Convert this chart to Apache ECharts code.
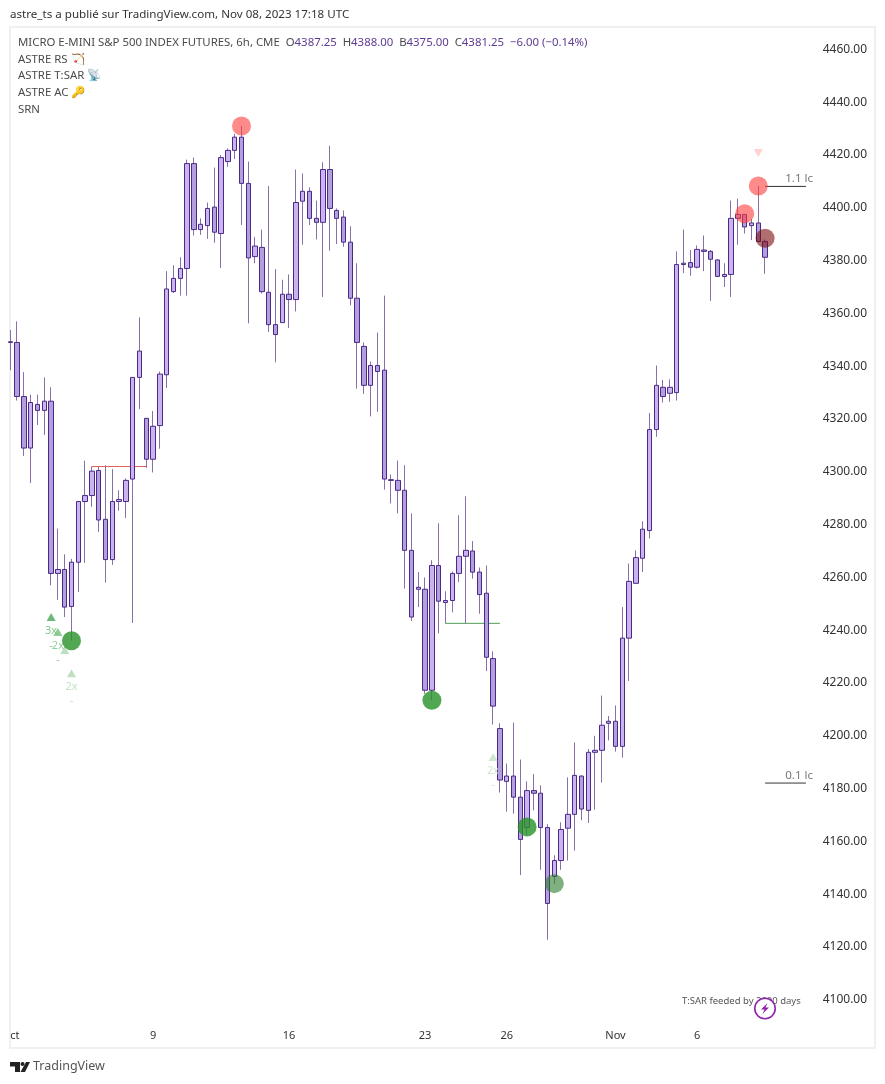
<!DOCTYPE html>
<html><head><meta charset="utf-8">
<style>html,body{margin:0;padding:0;background:#fff}#c{width:885px;height:1084px}</style>
<script src="https://cdn.jsdelivr.net/npm/echarts@6/dist/echarts.min.js"></script>
</head><body><div id="c"></div>
<script>
const opens = [4349.25,4349,4328.5,4309,4325.5,4323.25,4326.75,4261.5,4263,4249,4265.75,4288.75,4291,4300.5,4282,4266.75,4288.75,4288.75,4297.25,4335.75,
4320.25,4304.75,4317.5,4336.75,4368.25,4373.25,4377,4416.75,4391.75,4393.25,4400.25,4390.25,4417.5,4421.75,4426.75,4409.25,4381.5,4385,4368,4355.75,
4356.5,4367.25,4365.25,4402.5,4406.25,4396,4394.5,4414.5,4399,4396.5,4387,4365.75,4347.5,4332.75,4340.25,4338.5,4297,4296.75,4293,4270.25,
4255.5,4255.5,4217.25,4264.5,4250.5,4251.25,4261.5,4268,4270,4262,4254,4229.25,4202.75,4182.75,4184.75,4176.75,4165.25,4179.25,4178.25,4165.25,
4146.75,4152.75,4165,4170.25,4184.75,4171.75,4193.75,4194.5,4204.75,4205.5,4196,4237,4257.75,4267.25,4277.75,4316,4332,4329.75,4330,4378.5,
4379.25,4377.5,4384,4383.5,4380.25,4374,4374.75,4396,4397.5,4393.25,4394.25,4387.25];
const closes = [4349,4328.5,4309,4326.25,4323.25,4326.75,4261.5,4263,4248.75,4265.75,4288.75,4291,4300.25,4281.75,4266.75,4288.75,4289.5,4296.75,4335.75,4345.75,
4304.75,4317.25,4337,4369.25,4373.25,4377,4416.75,4391.75,4393.75,4399.75,4390.75,4419,4421.75,4426.75,4409.25,4381,4385.5,4368.25,4355.75,4352,
4367.25,4365.25,4402,4406.25,4396,4394.5,4414.5,4399.75,4396,4387,4365.75,4349,4332.75,4340.25,4338,4297.25,4296.75,4293,4270.25,4245,
4256.25,4217.25,4264.5,4251,4251.25,4261.5,4268,4270.25,4262,4253.5,4229.75,4211.25,4183.25,4184.75,4176.75,4160.75,4179.25,4178.25,4165.25,4136.5,
4152.75,4164.5,4170.25,4185,4172.25,4193.75,4194.5,4204,4205.5,4196,4237,4258.5,4267.5,4278.25,4316,4332.75,4328.5,4332,4378.5,4379,
4377.5,4384.25,4383.5,4380.5,4374,4374.75,4396,4397.5,4392.75,4394.25,4387.25,4381.25];
const lows = [4338.5,4327,4306,4295.75,4317.75,4314,4257,4251.5,4245,4236,4254.5,4265.5,4286.75,4277.25,4258,4264.75,4285.25,4282.5,4242.75,4323.75,
4301.5,4299.75,4308.75,4331.75,4367.75,4366.75,4366.75,4389.5,4389.75,4388.25,4386.75,4377.25,4415.5,4418.5,4393.5,4356.25,4379,4367.5,4353,4341.5,
4356.5,4354.5,4360.75,4386,4393.5,4388,4366.25,4383.75,4386.25,4385.25,4363,4331.5,4329.5,4321,4322.75,4293.25,4288,4284.25,4255.75,4243.5,
4248.75,4216,4213.5,4238.75,4242.5,4246.75,4258.25,4242.5,4259.5,4246.25,4224.5,4204.25,4178.5,4171.25,4170.5,4147.25,4162.5,4171.75,4149.25,4122.75,
4144,4149.25,4152.75,4156.5,4168,4167,4172,4182.25,4198.25,4194,4191.75,4220.75,4257.75,4262,4274.75,4313.25,4326.25,4326.5,4327,4375.25,
4374.25,4377,4376,4364.75,4373.75,4370,4366.25,4386,4390.25,4387.75,4387,4375];
const highs = [4353.75,4357,4337.75,4329.25,4329.25,4335.75,4332,4278.5,4268.75,4267,4288.75,4304.25,4302,4302,4302.5,4301,4293,4297.5,4335.75,4358.5,
4320.25,4323,4338,4376,4378.25,4381.25,4418.25,4419,4396,4402,4415.25,4420,4422.5,4428,4431,4417.5,4389,4391.75,4408.25,4376.75,
4372.75,4374.75,4414.5,4413,4407.75,4402.75,4417.25,4423.5,4399.75,4399,4393,4379,4349,4341.75,4352.75,4366.75,4299,4304.25,4302.5,4284.25,
4262,4260,4266.5,4280.5,4254.75,4262.25,4283.5,4290.75,4273.75,4263.75,4264.5,4232,4204.75,4189.5,4205,4191,4182.75,4185.5,4181.25,4166.5,
4154.75,4167.25,4184.25,4197.5,4185,4195,4200,4215.25,4207.5,4211.5,4248.75,4265.25,4270.25,4281.25,4322.25,4340.25,4334.75,4335,4383.5,4391.75,
4384,4385.75,4389.5,4384,4380.5,4379,4402.75,4403.5,4397.5,4395.75,4408.25,4388];
const categoryCount = 119;
const dateTicks = {0:'ct',21:'9',41:'16',61:'23',73:'26',89:'Nov',101:'6'};
const redCircles = [[34,4431],[110,4408.25],[108,4397.75]];
const darkRedCircles = [[111,4388.5]];
const greenCircles = [[9,4236],[62,4213.5],[76,4165.5]];
const mutedGreenCircles = [[80,4144]];
const srnLevels = [{name:'1.1 lc',price:4408.1,labelPrice:4411},{name:'0.1 lc',price:4182.1,labelPrice:4184.7}];
const redLevel = [[12,4302],[20,4302]];
const greenLevel = [[64,4242.6],[72,4242.6]];
const upMarks = [[6,4245,'#45a855'],[7,4239.3,'#6fc07a'],[8,4232.5,'#aed8b0'],[9,4223.7,'#aedbb2'],[71,4192,'#c2e3c4']];
const downMarks = [[110,4420.75,'#ffc6c6']];
const markTexts = [[6,4239.7,'3x','#6cb86c'],[6,4234,'-','#6cb86c'],[7,4234,'2x','#78c27e'],[7,4228.7,'-','#78c27e'],
[9,4218.5,'2x','#b0dab4'],[9,4213.2,'-','#b0dab4'],[71,4186.7,'2x','#c0e0c2'],[71,4181.3,'-','#c0e0c2']];

const cats = Array.from({length:categoryCount},(_,i)=>dateTicks[i]||'');
const font='"Noto Sans",sans-serif';
const chart = echarts.init(document.getElementById('c'),null,{renderer:'canvas',width:885,height:1084});
const wickData = opens.map((o,i)=>[o,closes[i],lows[i],highs[i]]);
const bodyData = opens.map((o,i)=>[o,closes[i],Math.min(o,closes[i]),Math.max(o,closes[i])]);
const circle=(name,data,color)=>({name,type:'scatter',data,symbol:'circle',symbolSize:19,z:6,itemStyle:{color,opacity:1},silent:true});
const level=(data,color)=>({type:'line',data,symbol:'none',z:3,lineStyle:{color,width:1},silent:true});
const txt=(x,y,text,size,fill,extra)=>({type:'text',x,y,silent:true,style:Object.assign({text,font:size+'px '+font,fill,textVerticalAlign:'middle'},extra||{})});
const legend=(y,text)=>txt(18,y,text,11.4,'#4a4a4a');
const graphic=[
 {type:'rect',shape:{x:10,y:27,width:865,height:1021},style:{fill:'none',stroke:'#f0f0f0',lineWidth:2},silent:true,z:-1},
 txt(10,14.5,'astre_ts a publié sur TradingView.com, Nov 08, 2023 17:18 UTC',11.6,'#333'),
 {type:'text',x:18,y:42.5,silent:true,style:{
   text:'{g|MICRO E-MINI S&P 500 INDEX FUTURES, 6h, CME  O}{p|4387.25}{g|  H}{p|4388.00}{g|  B}{p|4375.00}{g|  C}{p|4381.25}{p|  −6.00 (−0.14%)}',
   textVerticalAlign:'middle',font:'11.4px '+font,
   rich:{g:{fill:'#4a4a4a',font:'11.4px '+font},p:{fill:'#5e3a93',font:'11.4px '+font}}}},
 legend(59.5,'ASTRE RS 🏹'),legend(76,'ASTRE T:SAR 📡'),legend(92.5,'ASTRE AC 🔑'),legend(109.5,'SRN'),
 txt(682,1001.5,'T:SAR feeded by 2000 days',9.5,'#555'),
 {type:'circle',shape:{cx:765,cy:1008.5,r:10.2},style:{fill:'#fff',stroke:'#8e24aa',lineWidth:1.6},silent:true,z:20},
 {type:'polygon',shape:{points:[[767.5,1003],[761,1009.5],[764.5,1009.5],[762.5,1014],[769,1007.5],[765.5,1007.5]]},style:{fill:'#8e24aa'},silent:true,z:21},
 {type:'polygon',shape:{points:[[10,1062],[20,1062],[20,1072],[15,1072],[15,1066.5],[10,1066.5]]},style:{fill:'#222'},silent:true},
 {type:'circle',shape:{cx:22.5,cy:1064,r:2},style:{fill:'#222'},silent:true},
 {type:'polygon',shape:{points:[[26,1062],[30,1062],[25,1072],[20.5,1072]]},style:{fill:'#222'},silent:true},
 txt(33,1066.5,'TradingView',12.5,'#555')
];
chart.setOption({
 animation:false,
 backgroundColor:'#fff',
 grid:{left:10.3,top:49.4,width:802.4,height:950.4,containLabel:false},
 xAxis:{type:'category',data:cats,boundaryGap:false,axisLine:{show:false},axisTick:{show:false},splitLine:{show:false},
   axisLabel:{interval:0,margin:31,fontSize:11,color:'#333',fontFamily:font,alignMinLabel:'left',hideOverlap:false}},
 yAxis:{type:'value',position:'right',min:4100,max:4460,interval:20,axisLine:{show:false},axisTick:{show:false},splitLine:{show:false},
   axisLabel:{margin:10,fontSize:12,color:'#333',fontFamily:font,formatter:v=>v.toFixed(2)}},
 graphic,
 series:[
  {name:'wicks',type:'candlestick',data:wickData,barWidth:1,z:2,silent:true,
   itemStyle:{color:'#8a6fa8',color0:'#8a6fa8',borderColor:'#8a6fa8',borderColor0:'#8a6fa8',borderColorDoji:'#8a6fa8',borderWidth:1}},
  level(redLevel,'#e0605a'),
  level(greenLevel,'#4f9e55'),
  {name:'bodies',type:'candlestick',data:bodyData,barWidth:5,z:4,silent:true,
   itemStyle:{color:'#ccb3f0',color0:'#b49edd',borderColor:'#4a2a88',borderColor0:'#4a2a88',borderColorDoji:'#4a2a88',borderWidth:1}},
  ...srnLevels.map(l=>level([[111,l.price],[117,l.price]],'#333')),
  {type:'scatter',data:srnLevels.map(l=>[116,l.labelPrice,l.name]),symbolSize:0,z:7,silent:true,
   label:{show:true,position:'inside',formatter:p=>p.data[2],fontSize:11.5,color:'#555',fontFamily:font}},
  circle('red',redCircles,'rgba(255,60,60,0.6)'),
  circle('darkRed',darkRedCircles,'rgba(123,13,13,0.6)'),
  circle('green',greenCircles,'rgba(39,146,39,0.8)'),
  circle('mutedGreen',mutedGreenCircles,'rgba(43,123,43,0.6)'),
  {type:'scatter',data:upMarks.map(m=>({value:[m[0],m[1]],itemStyle:{color:m[2]}})),symbol:'triangle',symbolSize:[9,8],z:5,silent:true},
  {type:'scatter',data:downMarks.map(m=>({value:[m[0],m[1]],itemStyle:{color:m[2]}})),symbol:'triangle',symbolRotate:180,symbolSize:[9,8],z:5,silent:true},
  {type:'scatter',data:markTexts.map(m=>({value:[m[0],m[1]],label:{formatter:m[2],color:m[3]}})),symbolSize:0,z:5,silent:true,
   label:{show:true,position:'inside',fontSize:11,fontFamily:font}}
 ]
});
</script></body></html>
